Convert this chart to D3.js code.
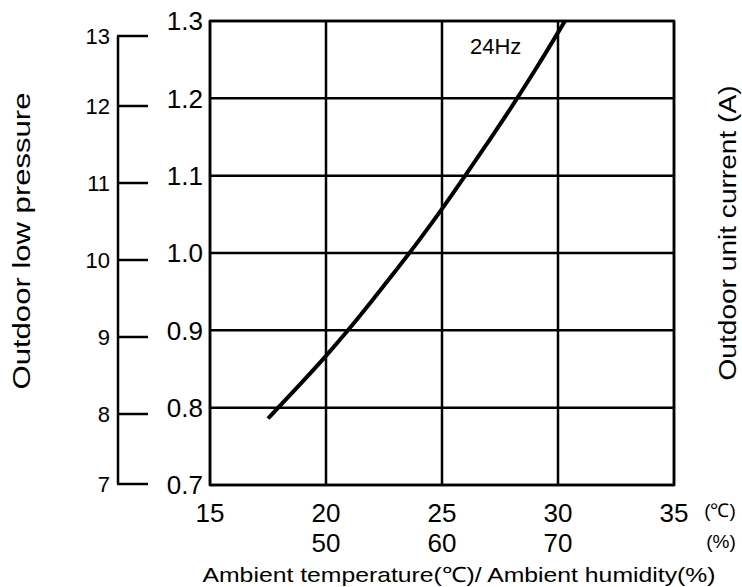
<!DOCTYPE html>
<html><head><meta charset="utf-8">
<script src="https://cdn.jsdelivr.net/npm/d3@7"></script>
<style>body{margin:0;background:#fff}svg{display:block}text{font-family:"Liberation Sans",Arial,sans-serif;fill:#000}</style>
</head><body>
<script>
// Data
const tempTicks = [15, 20, 25, 30, 35];
const humidityTicks = [50, 60, 70];        // humidity at temp 20, 25, 30
const humidityTemps = [20, 25, 30];
const currentTicks = [0.7, 0.8, 0.9, 1.0, 1.1, 1.2, 1.3];
const pressureTicks = [7, 8, 9, 10, 11, 12, 13];
const curveTemp    = [17.5, 18, 19, 20, 21, 22, 23, 24, 25, 26, 27, 28, 29, 30, 30.3];
const curveCurrent = [0.786, 0.802, 0.834, 0.867, 0.902, 0.939, 0.977, 1.016, 1.057, 1.100, 1.144, 1.189, 1.236, 1.285, 1.300];
const seriesLabel = "24Hz";

const W = 742, H = 587;
const svg = d3.select("body").append("svg").attr("width", W).attr("height", H);

const x = d3.scaleLinear().domain([15, 35]).range([210, 674]);
const y = d3.scaleLinear().domain([0.7, 1.3]).range([485, 21]);
// outer pressure axis (unevenly spaced as in the reference)
const yp = d3.scaleLinear().domain([7, 8, 12, 13]).range([484, 414, 106, 36]);

const g = svg.append("g");
// grid
g.selectAll("line.h").data(currentTicks).join("line")
  .attr("x1", x(15)).attr("x2", x(35)).attr("y1", d => y(d)).attr("y2", d => y(d))
  .attr("stroke", "#000").attr("stroke-width", 2.5);
g.selectAll("line.v").data(tempTicks).join("line")
  .attr("y1", y(0.7)).attr("y2", y(1.3)).attr("x1", d => x(d)).attr("x2", d => x(d))
  .attr("stroke", "#000").attr("stroke-width", 2.5);
g.append("rect").attr("x", x(15)).attr("y", y(1.3)).attr("width", x(35) - x(15)).attr("height", y(0.7) - y(1.3))
  .attr("fill", "none").attr("stroke", "#000").attr("stroke-width", 2.5);

// inner y labels
g.selectAll("text.cy").data(currentTicks).join("text")
  .attr("x", 203).attr("y", d => y(d)).attr("dy", "0.36em").attr("text-anchor", "end")
  .attr("font-size", 26).text(d => d.toFixed(1));

// outer pressure axis
g.append("line").attr("x1", 118).attr("x2", 118).attr("y1", yp(13)).attr("y2", yp(7))
  .attr("stroke", "#000").attr("stroke-width", 2.5);
g.selectAll("line.pt").data(pressureTicks).join("line")
  .attr("x1", 117).attr("x2", 148).attr("y1", d => yp(d)).attr("y2", d => yp(d))
  .attr("stroke", "#000").attr("stroke-width", 2.5);
g.selectAll("text.pt").data(pressureTicks).join("text")
  .attr("x", 110).attr("y", d => yp(d)).attr("dy", "0.36em").attr("text-anchor", "end")
  .attr("font-size", 22).text(d => d);

// x labels
g.selectAll("text.xt").data(tempTicks).join("text")
  .attr("x", d => x(d)).attr("y", 522).attr("text-anchor", "middle")
  .attr("font-size", 26).text(d => d);
g.selectAll("text.hx").data(humidityTicks).join("text")
  .attr("x", (d, i) => x(humidityTemps[i])).attr("y", 552).attr("text-anchor", "middle")
  .attr("font-size", 26).text(d => d);
g.append("text").attr("x", 720).attr("y", 517).attr("text-anchor", "middle").attr("font-size", 19).text("(℃)");
g.append("text").attr("x", 721).attr("y", 548).attr("text-anchor", "middle").attr("font-size", 19).text("(%)");

// titles
g.append("text").attr("x", 459).attr("y", 582).attr("text-anchor", "middle").attr("font-size", 21)
  .attr("textLength", 513).attr("lengthAdjust", "spacingAndGlyphs")
  .text("Ambient temperature(℃)/ Ambient humidity(%)");
g.append("text").attr("transform", "translate(30,241) rotate(-90)").attr("text-anchor", "middle")
  .attr("font-size", 23).attr("textLength", 297).attr("lengthAdjust", "spacingAndGlyphs")
  .text("Outdoor low pressure");
g.append("text").attr("transform", "translate(736,233) rotate(-90)").attr("text-anchor", "middle")
  .attr("font-size", 23).attr("textLength", 295).attr("lengthAdjust", "spacingAndGlyphs")
  .text("Outdoor unit current (A)");

// curve
const pts = curveTemp.map((t, i) => [t, curveCurrent[i]]);
g.append("path").datum(pts)
  .attr("d", d3.line().x(d => x(d[0])).y(d => y(d[1])).curve(d3.curveMonotoneX))
  .attr("fill", "none").attr("stroke", "#000").attr("stroke-width", 4);
g.append("text").attr("x", 470).attr("y", 54).attr("font-size", 22).text(seriesLabel);
</script>
</body></html>
